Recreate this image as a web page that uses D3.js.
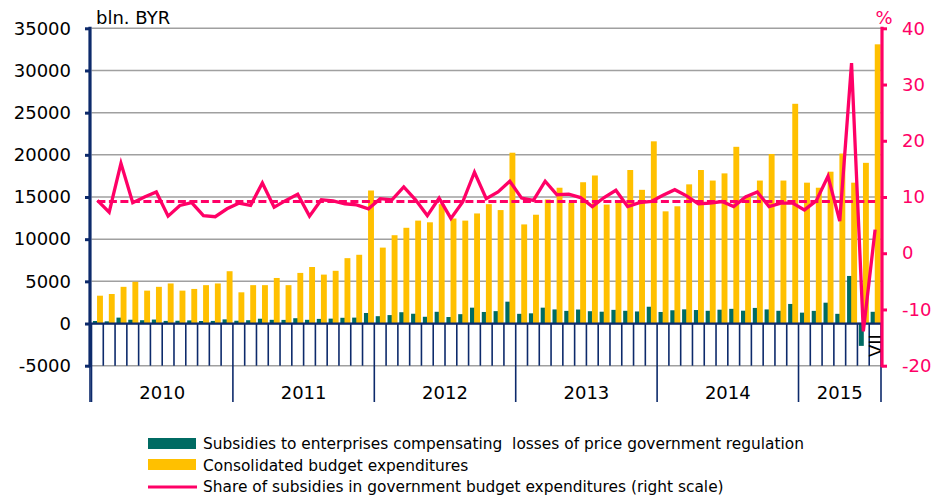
<!DOCTYPE html>
<html>
<head>
<meta charset="utf-8">
<script src="https://cdn.jsdelivr.net/npm/d3@7"></script>
<style>
  html, body { margin: 0; padding: 0; background: #fff; }
  svg { display: block; font-family: "DejaVu Sans", Verdana, sans-serif; }
</style>
</head>
<body>
<svg id="chart" width="933" height="496"></svg>
<script>
// ---- data ----
const years = ["2010", "2011", "2012", "2013", "2014", "2015"];
const monthsPerYear = [12, 12, 12, 12, 12, 7];
const lastMonthLabel = "VII";

// Consolidated budget expenditures, bln. BYR
const expenditures = [
  3300, 3500, 4350, 4950, 3900, 4350, 4750, 3900, 4100, 4550, 4750, 6200,
  3700, 4550, 4550, 5400, 4550, 6000, 6700, 5800, 6250, 7750, 8150, 15770,
  9000, 10470, 11350, 12200, 12000, 14150, 12450, 12200, 13050, 14150, 13450, 20250,
  11750, 12900, 14700, 16100, 14300, 16750, 17550, 14100, 14500, 18200, 15850, 21600,
  13300, 13900, 16500, 18200, 16950, 17800, 20950, 15200, 16950, 20100, 16950, 26050,
  16700, 16100, 18000, 20150, 16700, 19050, 33100
];
// Subsidies to enterprises compensating losses of price government regulation, bln. BYR
const subsidies = [
  300, 260, 700, 450, 390, 470, 310, 330, 370, 300, 310, 490,
  330, 390, 570, 440, 430, 630, 440, 550, 580, 680, 700, 1250,
  870, 1000, 1340, 1160, 800, 1390, 770, 1110, 1880, 1370, 1470, 2590,
  1150, 1210, 1880, 1670, 1500, 1660, 1460, 1400, 1620, 1510, 1430, 1990,
  1370, 1570, 1680, 1600, 1510, 1640, 1740, 1520, 1850, 1670, 1510, 2320,
  1290, 1500, 2470, 1150, 5640, -2650, 1390
];
// Share of subsidies in government budget expenditures, % (right scale)
const share = [
  9.4, 7.3, 16.0, 9.0, 10.0, 10.9, 6.6, 8.5, 9.0, 6.7, 6.5, 7.9,
  8.9, 8.5, 12.5, 8.2, 9.4, 10.5, 6.6, 9.5, 9.3, 8.8, 8.6, 7.9,
  9.7, 9.5, 11.8, 9.5, 6.7, 9.8, 6.2, 9.1, 14.4, 9.7, 10.9, 12.8,
  9.8, 9.4, 12.8, 10.4, 10.5, 9.9, 8.3, 9.9, 11.2, 8.3, 9.0, 9.2,
  10.3, 11.3, 10.2, 8.8, 8.9, 9.2, 8.3, 10.0, 10.9, 8.3, 8.9, 8.9,
  7.7, 9.3, 13.7, 5.7, 33.8, -13.9, 4.2
];
const averageShare = 9.2;

const leftTicks = [-5000, 0, 5000, 10000, 15000, 20000, 25000, 30000, 35000];
const rightTicks = [-20, -10, 0, 10, 20, 30, 40];
const leftUnit = "bln. BYR";
const rightUnit = "%";
const legendLabels = [
  "Subsidies to enterprises compensating  losses of price government regulation",
  "Consolidated budget expenditures",
  "Share of subsidies in government budget expenditures (right scale)"
];

// ---- styles ----
const C_GREEN = "#006B63";
const C_YELLOW = "#FFC000";
const C_PINK = "#FF0066";
const C_NAVY = "#0D2A6B";
const C_GRID = "#A0A0A0";

// ---- build ----
const n = expenditures.length;
const idx = d3.range(n);
const svg = d3.select("#chart");

const X0 = 91.5, X1 = 881, YT = 28.3, YB = 365.7;
const x = d3.scaleBand().domain(idx).range([X0, X1]).padding(0);
const bw = x.bandwidth();
const yL = d3.scaleLinear().domain([-5000, 35000]).range([YB, YT]);
const yR = d3.scaleLinear().domain([-20, 40]).range([YB, YT]);
const plainFmt = d => String(d);   // hyphen-minus, as in the original

// gridlines
svg.append("g").selectAll("line").data(leftTicks).join("line")
  .attr("x1", X0).attr("x2", X1)
  .attr("y1", d => yL(d)).attr("y2", d => yL(d))
  .attr("stroke", C_GRID).attr("stroke-width", 1.5);

// bars: subsidies (green) then expenditures (yellow)
svg.append("g").selectAll("rect").data(idx).join("rect")
  .attr("x", i => x(i) + bw * 0.12)
  .attr("width", bw * 0.42)
  .attr("y", i => yL(Math.max(0, subsidies[i])))
  .attr("height", i => Math.abs(yL(subsidies[i]) - yL(0)))
  .attr("fill", C_GREEN);

svg.append("g").selectAll("rect").data(idx).join("rect")
  .attr("x", i => x(i) + bw * 0.47)
  .attr("width", bw * 0.5)
  .attr("y", i => yL(Math.max(0, expenditures[i])))
  .attr("height", i => Math.abs(yL(expenditures[i]) - yL(0)))
  .attr("fill", C_YELLOW);

// category axis: zero line, month ticks, year separators
const y0 = yL(0);
const yearStarts = [];
{ let s = 0; monthsPerYear.forEach(m => { yearStarts.push(s); s += m; }); yearStarts.push(s); }
const boundaries = d3.range(n + 1);
const boundX = b => (b < n ? x(b) : X1);

svg.append("g").selectAll("line").data(boundaries).join("line")
  .attr("x1", b => boundX(b)).attr("x2", b => boundX(b))
  .attr("y1", y0)
  .attr("y2", b => yearStarts.includes(b) ? 402 : YB)
  .attr("stroke", C_NAVY).attr("stroke-width", 1.6);

svg.append("line")
  .attr("x1", X0 - 1).attr("x2", X1)
  .attr("y1", y0).attr("y2", y0)
  .attr("stroke", C_NAVY).attr("stroke-width", 2.2);

// year labels
svg.append("g").selectAll("text").data(years).join("text")
  .attr("x", (d, k) => (boundX(yearStarts[k]) + boundX(yearStarts[k + 1])) / 2)
  .attr("y", 399)
  .attr("text-anchor", "middle")
  .attr("font-size", 18)
  .attr("fill", "#000")
  .text(d => d);

// last month label (rotated)
svg.append("text")
  .attr("transform", `translate(${x(n - 1) + bw / 2 + 7},${(y0 + YB) / 2 + 1}) rotate(-90)`)
  .attr("text-anchor", "middle")
  .attr("font-size", 18)
  .attr("fill", "#000")
  .text(lastMonthLabel);

// left axis
const gL = svg.append("g").attr("transform", "translate(90,0)")
  .call(d3.axisLeft(yL).tickValues(leftTicks).tickSize(5).tickPadding(14).tickFormat(plainFmt));
gL.select(".domain").remove();
gL.selectAll(".tick line").attr("stroke", C_NAVY).attr("stroke-width", 3);
gL.selectAll(".tick text").attr("font-size", 18).attr("fill", "#000").attr("font-family", "DejaVu Sans, Verdana, sans-serif");
svg.append("line").attr("x1", 90).attr("x2", 90).attr("y1", YT - 1.5).attr("y2", YB + 1.5)
  .attr("stroke", C_NAVY).attr("stroke-width", 3.2);
svg.append("line").attr("x1", 90).attr("x2", 90).attr("y1", YB).attr("y2", 402)
  .attr("stroke", C_NAVY).attr("stroke-width", 1.6);

// right axis
const gR = svg.append("g").attr("transform", "translate(882,0)")
  .call(d3.axisRight(yR).tickValues(rightTicks).tickSize(5).tickPadding(15).tickFormat(plainFmt));
gR.select(".domain").remove();
gR.selectAll(".tick line").attr("stroke", C_PINK).attr("stroke-width", 3);
gR.selectAll(".tick text").attr("font-size", 18).attr("fill", C_PINK).attr("font-family", "DejaVu Sans, Verdana, sans-serif");
svg.append("line").attr("x1", 882).attr("x2", 882).attr("y1", YT - 1.5).attr("y2", YB + 1.5)
  .attr("stroke", C_PINK).attr("stroke-width", 3.2);

// units
svg.append("text").attr("x", 96).attr("y", 24).attr("font-size", 18).attr("fill", "#000").text(leftUnit);
svg.append("text").attr("x", 884).attr("y", 24).attr("text-anchor", "middle").attr("font-size", 18).attr("fill", C_PINK).text(rightUnit);

// average dashed line
svg.append("line")
  .attr("x1", x(0) + bw / 2).attr("x2", x(n - 1) + bw / 2)
  .attr("y1", yR(averageShare)).attr("y2", yR(averageShare))
  .attr("stroke", C_PINK).attr("stroke-width", 3.2)
  .attr("stroke-dasharray", "8,3.5");

// share line
const line = d3.line().x(i => x(i) + bw / 2).y(i => yR(share[i]));
svg.append("path").datum(idx)
  .attr("d", line)
  .attr("fill", "none")
  .attr("stroke", C_PINK).attr("stroke-width", 3.3)
  .attr("stroke-linejoin", "miter").attr("stroke-miterlimit", 4);

// legend
const lg = svg.append("g").attr("font-size", 15.4).attr("fill", "#000");
lg.append("rect").attr("x", 148).attr("y", 438).attr("width", 48).attr("height", 11).attr("fill", C_GREEN);
lg.append("rect").attr("x", 148).attr("y", 459).attr("width", 48).attr("height", 11).attr("fill", C_YELLOW);
lg.append("line").attr("x1", 148).attr("x2", 197).attr("y1", 487).attr("y2", 487).attr("stroke", C_PINK).attr("stroke-width", 3.2);
lg.selectAll("text").data(legendLabels).join("text")
  .attr("x", 203)
  .attr("y", (d, k) => 449 + k * 21.5)
  .style("white-space", "pre")
  .text(d => d);
</script>
</body>
</html>
